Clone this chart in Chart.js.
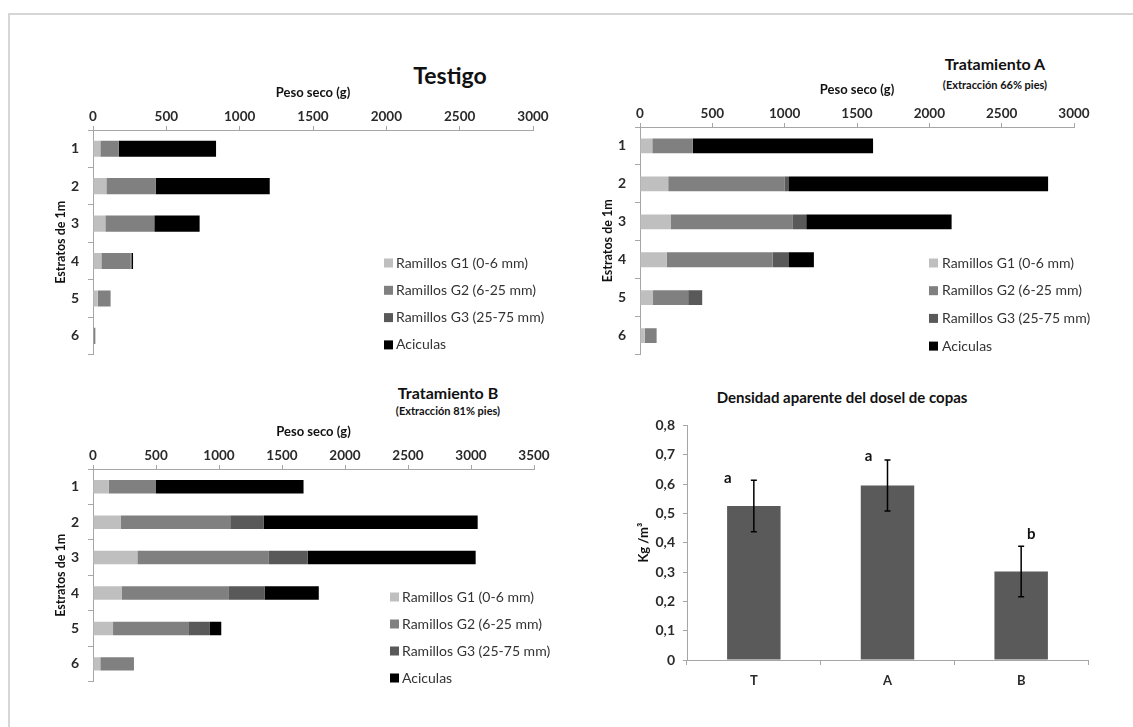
<!DOCTYPE html>
<html lang="es">
<head>
<meta charset="utf-8">
<title>Peso seco por estratos y densidad del dosel</title>
<script src="https://cdn.jsdelivr.net/npm/chart.js@4.4.0/dist/chart.umd.min.js"></script>
<style>
  body { margin: 0; background: #fff; font-family: Lato, sans-serif; }
  #hoja { position: relative; width: 1133px; height: 727px; overflow: hidden; }
  #marco { position: absolute; left: 8px; top: 13px; right: -5px; bottom: -5px;
           border-top: 2px solid #d6d6d6; border-left: 2px solid #d6d6d6; }
  canvas { position: absolute; }
  .titulo { position: absolute; transform: translate(-50%, -50%); font-weight: bold;
            color: #111; white-space: nowrap; }
</style>
</head>
<body>
<div id="hoja">
  <div id="marco"></div>

  <div class="titulo" style="left:450px; top:75px; font-size:23px;">Testigo</div>
  <div class="titulo" style="left:995px; top:63px; font-size:16px;">Tratamiento A</div>
  <div class="titulo" style="left:995px; top:84px; font-size:11px;">(Extracción 66% pies)</div>
  <div class="titulo" style="left:448px; top:392px; font-size:16px;">Tratamiento B</div>
  <div class="titulo" style="left:448px; top:410px; font-size:11px;">(Extracción 81% pies)</div>
  <div class="titulo" style="left:842px; top:397px; font-size:15px;">Densidad aparente del dosel de copas</div>

  <canvas id="testigo" width="506" height="291" style="left:49px; top:81px;"></canvas>
  <canvas id="tratA" width="500" height="294" style="left:596px; top:78px;"></canvas>
  <canvas id="tratB" width="507" height="279" style="left:49px; top:420px;"></canvas>
  <canvas id="densidad" width="466" height="281" style="left:632px; top:409px;"></canvas>
</div>

<script>
// Estratos y componentes
const estratos = ['1', '2', '3', '4', '5', '6'];
const componentes = ['Ramillos G1 (0-6 mm)', 'Ramillos G2 (6-25 mm)', 'Ramillos G3 (25-75 mm)', 'Aciculas'];
const coloresComp = ['#bfbfbf', '#808080', '#595959', '#000000'];

// Peso seco (g) por componente, estratos 1..6
const testigoG1 = [50, 91, 84, 57, 32, 5];
const testigoG2 = [125, 336, 334, 200, 88, 11];
const testigoG3 = [0, 0, 0, 6, 0, 0];
const testigoAc = [664, 778, 309, 10, 0, 0];

const tratAG1 = [85, 195, 211, 184, 90, 32];
const tratAG2 = [280, 803, 846, 733, 243, 83];
const tratAG3 = [0, 32, 92, 113, 97, 0];
const tratAAc = [1246, 1791, 1005, 172, 0, 0];

const tratBG1 = [124, 222, 352, 230, 159, 58];
const tratBG2 = [376, 867, 1044, 849, 597, 267];
const tratBG3 = [0, 267, 309, 282, 172, 0];
const tratBAc = [1171, 1697, 1332, 431, 90, 0];

// Densidad aparente (kg/m3)
const tratamientos = ['T', 'A', 'B'];
const densidad = [0.525, 0.595, 0.302];
const errorDensidad = [0.088, 0.087, 0.086];
const letras = ['a', 'a', 'b'];

const gris = '#a6a6a6';
const colorTexto = '#2a2a2a';

// leyenda dibujada dentro del área del gráfico
const leyendaInterna = {
    id: 'leyendaInterna',
    afterDraw(chart, args, opts) {
        if (!opts || opts.x === undefined) return;
        const ctx = chart.ctx;
        ctx.save();
        ctx.font = '14px Lato';
        ctx.textBaseline = 'middle';
        chart.data.datasets.forEach((ds, i) => {
            const y = opts.y + i * opts.gap;
            ctx.fillStyle = ds.backgroundColor;
            ctx.fillRect(opts.x, y - 4.5, 9, 9);
            ctx.fillStyle = '#333';
            ctx.fillText(ds.label, opts.textX, y);
        });
        ctx.restore();
    }
};

function graficoEstratos(id, series, maximo, barra, leyenda) {
    new Chart(document.getElementById(id), {
        type: 'bar',
        data: {
            labels: estratos,
            datasets: series.map((s, i) => ({
                label: componentes[i],
                data: s,
                backgroundColor: coloresComp[i],
                borderWidth: 0,
                barPercentage: barra,
                categoryPercentage: 1
            }))
        },
        options: {
            indexAxis: 'y',
            responsive: false,
            animation: false,
            devicePixelRatio: 1,
            layout: { padding: { top: 0, left: 0, right: 22, bottom: 4 } },
            plugins: {
                legend: { display: false },
                title: { display: false },
                tooltip: { enabled: false },
                leyendaInterna: leyenda
            },
            scales: {
                x: {
                    position: 'top',
                    stacked: true,
                    min: 0,
                    max: maximo,
                    ticks: { stepSize: 500, color: colorTexto, padding: 1,
                             callback: v => String(v),
                             font: { family: 'Lato', size: 13.5, weight: 'bold' } },
                    grid: { drawOnChartArea: false, tickLength: 4, color: gris },
                    border: { color: gris },
                    title: { display: true, text: 'Peso seco (g)', color: '#111',
                             font: { family: 'Lato', size: 13, weight: 'bold' } },
                    afterFit: s => { s.height = 49; }
                },
                y: {
                    stacked: true,
                    ticks: { color: colorTexto, padding: 9,
                             font: { family: 'Lato', size: 14, weight: 'bold' } },
                    grid: { drawOnChartArea: false, tickLength: 5, color: gris, offset: true },
                    border: { color: gris },
                    title: { display: true, text: 'Estratos de 1m', color: '#111',
                             font: { family: 'Lato', size: 12.5, weight: 'bold' } },
                    afterFit: s => { s.width = 44; }
                }
            }
        },
        plugins: [leyendaInterna]
    });
}

graficoEstratos('testigo', [testigoG1, testigoG2, testigoG3, testigoAc], 3000, 0.43,
    { x: 335, textX: 347, y: 182, gap: 27.3 });
graficoEstratos('tratA', [tratAG1, tratAG2, tratAG3, tratAAc], 3000, 0.39,
    { x: 333, textX: 346, y: 185, gap: 27.7 });
graficoEstratos('tratB', [tratBG1, tratBG2, tratBG3, tratBAc], 3500, 0.38,
    { x: 341, textX: 353, y: 177, gap: 27 });

// barras de error y letras de significación
const barrasError = {
    id: 'barrasError',
    afterDatasetsDraw(chart, args, opts) {
        const ctx = chart.ctx;
        const y = chart.scales.y;
        const meta = chart.getDatasetMeta(0);
        ctx.save();
        ctx.strokeStyle = '#000';
        ctx.lineWidth = 1.5;
        meta.data.forEach((bar, i) => {
            const yTop = y.getPixelForValue(densidad[i] + errorDensidad[i]);
            const yBot = y.getPixelForValue(densidad[i] - errorDensidad[i]);
            ctx.beginPath();
            ctx.moveTo(bar.x, yTop); ctx.lineTo(bar.x, yBot);
            ctx.moveTo(bar.x - 3, yTop); ctx.lineTo(bar.x + 3, yTop);
            ctx.moveTo(bar.x - 3, yBot); ctx.lineTo(bar.x + 3, yBot);
            ctx.stroke();
            ctx.fillStyle = '#111';
            ctx.font = 'bold 15px Lato';
            ctx.textAlign = 'center';
            ctx.textBaseline = 'middle';
            ctx.fillText(letras[i], bar.x + opts.dx[i], yTop + opts.dy[i]);
        });
        ctx.restore();
    }
};

new Chart(document.getElementById('densidad'), {
    type: 'bar',
    data: {
        labels: tratamientos,
        datasets: [{
            data: densidad,
            backgroundColor: '#5a5a5a',
            borderWidth: 0,
            barPercentage: 0.4,
            categoryPercentage: 1
        }]
    },
    options: {
        responsive: false,
        animation: false,
        devicePixelRatio: 1,
        layout: { padding: { top: 10, left: 0, right: 10, bottom: 0 } },
        plugins: {
            legend: { display: false },
            tooltip: { enabled: false },
            barrasError: { dx: [-26, -19, 10], dy: [-2, -4, -12] }
        },
        scales: {
            x: {
                ticks: { color: colorTexto, padding: 8,
                         font: { family: 'Lato', size: 13, weight: 'bold' } },
                grid: { drawOnChartArea: false, tickLength: 5, color: gris, offset: true },
                border: { color: gris },
                afterFit: s => { s.height = 30; }
            },
            y: {
                min: 0,
                max: 0.8,
                ticks: {
                    stepSize: 0.1,
                    padding: 8,
                    color: colorTexto,
                    font: { family: 'Lato', size: 14, weight: 'bold' },
                    callback: v => v === 0 ? '0' : v.toFixed(1).replace('.', ',')
                },
                grid: { drawOnChartArea: false, tickLength: 4, color: gris },
                border: { color: gris },
                title: { display: true, text: 'Kg /m³', color: '#111',
                         font: { family: 'Lato', size: 13, weight: 'bold' } },
                afterFit: s => { s.width = 55; }
            }
        }
    },
    plugins: [barrasError]
});
</script>
</body>
</html>
